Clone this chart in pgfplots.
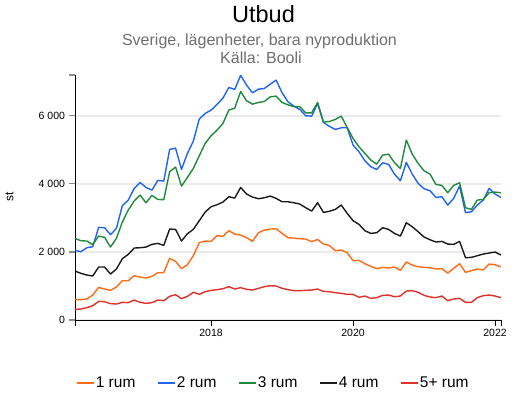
\documentclass[border=0pt]{standalone}
\usepackage{pgfplots}
\usepackage{pgfplotstable}
\pgfplotsset{compat=1.18}
\usepackage{fontspec}
\setmainfont{Liberation Sans}

\definecolor{c1}{HTML}{FF6A14}
\definecolor{c2}{HTML}{1F64F5}
\definecolor{c3}{HTML}{1E8A3C}
\definecolor{c4}{HTML}{1A1A1A}
\definecolor{c5}{HTML}{E0302A}
\definecolor{subgray}{HTML}{6E6E6E}

% month index 0 = feb 2016, 71 = jan 2022
\pgfplotstableread{
m  r1    r2    r3    r4    r5
0  597   2046  2399  1439  313
1  597   2007  2330  1371  323
2  617   2124  2320  1322  362
3  734   2154  2213  1292  421
4  959   2722  2467  1557  548
5  910   2712  2428  1557  538
6  871   2506  2144  1351  480
7  969   2692  2399  1498  470
8  1155  3358  2878  1801  519
9  1155  3524  3231  1929  509
10 1302  3867  3495  2115  587
11 1263  4043  3671  2124  519
12 1234  3896  3446  2144  490
13 1282  3818  3661  2222  509
14 1390  4102  3544  2252  587
15 1390  4082  3534  2193  568
16 1811  5012  4357  2673  695
17 1723  5051  4494  2663  744
18 1508  4425  3936  2320  627
19 1625  4895  4190  2536  695
20 1889  5257  4455  2663  813
21 2271  5903  4826  2917  754
22 2320  6070  5189  3172  832
23 2310  6168  5414  3329  871
24 2477  6334  5580  3387  891
25 2457  6520  5776  3466  920
26 2624  6833  6168  3622  979
27 2526  6775  6226  3583  910
28 2496  7190  6716  3896  950
29 2420  6902  6442  3701  901
30 2310  6677  6344  3613  881
31 2565  6784  6393  3564  930
32 2643  6804  6422  3593  979
33 2673  6931  6559  3642  1008
34 2682  7049  6579  3574  999
35 2545  6677  6393  3475  930
36 2418  6412  6324  3475  891
37 2408  6285  6266  3446  862
38 2389  6187  6266  3407  862
39 2379  6001  6089  3299  871
40 2301  5991  6089  3201  881
41 2369  6364  6393  3446  910
42 2232  5805  5815  3162  842
43 2190  5690  5835  3196  832
44 2036  5600  5894  3250  803
45 2056  5649  5991  3378  783
46 1978  5649  5659  3133  754
47 1743  5140  5336  2917  754
48 1752  4944  5091  2810  666
49 1654  4680  4895  2624  705
50 1576  4503  4699  2545  636
51 1508  4425  4582  2565  656
52 1547  4621  4846  2712  724
53 1527  4572  4875  2663  734
54 1557  4288  4621  2545  685
55 1459  4092  4454  2467  705
56 1703  4631  5287  2859  852
57 1615  4288  4875  2741  862
58 1566  4014  4600  2594  813
59 1547  3857  4386  2438  724
60 1537  3799  4288  2359  676
61 1498  3603  3985  2291  656
62 1508  3622  3955  2310  705
63 1380  3378  3740  2232  568
64 1517  3573  3955  2222  617
65 1654  3936  4033  2310  636
66 1400  3152  3299  1831  519
67 1449  3182  3250  1841  519
68 1498  3378  3524  1889  656
69 1469  3524  3544  1938  715
70 1645  3867  3740  1968  734
71 1625  3701  3759  1997  705
72 1557  3603  3740  1909  656
}\utbud

\begin{document}
\begin{tikzpicture}
\useasboundingbox (0,0) rectangle (520pt,408pt);

\node[anchor=base, font=\fontsize{23.5}{26}\selectfont] at (263.5pt,385.3pt) {Utbud};
\node[anchor=base, text=subgray, font=\fontsize{16}{18}\selectfont] at (259.5pt,362.3pt) {Sverige, lägenheter, bara nyproduktion};
\node[anchor=base, text=subgray, font=\fontsize{16}{18}\selectfont] at (261pt,344.7pt) {Källa: Booli};
\node[rotate=90, font=\fontsize{12}{14}\selectfont] at (9.5pt,211pt) {st};

\begin{axis}[
  at={(75pt,88pt)}, anchor=south west,
  scale only axis, width=426pt, height=245pt,
  xmin=0, xmax=72, ymin=0, ymax=7200,
  axis x line*=bottom, axis y line*=left,
  axis line style={black, line width=0.9pt},
  xtick={23,47,71}, xticklabels={2018,2020,2022},
  ytick={0,2000,4000,6000}, yticklabels={0,2 000,4 000,6 000},
  extra x ticks={0,72}, extra x tick labels={},
  extra y ticks={7200}, extra y tick labels={},
  extra tick style={grid=none, tick style={black, line width=0.8pt}},
  tick align=outside, major tick length=5.5pt,
  x tick style={black, line width=0.8pt},
  y tick style={black!45, line width=1.2pt},
  ymajorgrids, grid style={black!8, line width=1.4pt},
  ticklabel style={font=\fontsize{10.5}{12}\selectfont},
  yticklabel style={xshift=-1pt},
  legend columns=5,
  legend style={at={(0.4648,-0.2571)}, anchor=center, draw=none, fill=none,
    font=\fontsize{15.5}{17}\selectfont, inner sep=0pt,
    nodes={inner sep=1.5pt},
    /tikz/every even column/.append style={column sep=20pt}},
  legend image code/.code={\draw[#1] (0pt,0pt) -- (17pt,0pt);},
  every axis plot/.append style={line width=1.4pt, line join=round},
]
\addplot[c1] table[x=m, y=r1] {\utbud};
\addplot[c2] table[x=m, y=r2] {\utbud};
\addplot[c3] table[x=m, y=r3] {\utbud};
\addplot[c4] table[x=m, y=r4] {\utbud};
\addplot[c5] table[x=m, y=r5] {\utbud};
\legend{1 rum, 2 rum, 3 rum, 4 rum, 5+ rum}
\end{axis}
\end{tikzpicture}
\end{document}
